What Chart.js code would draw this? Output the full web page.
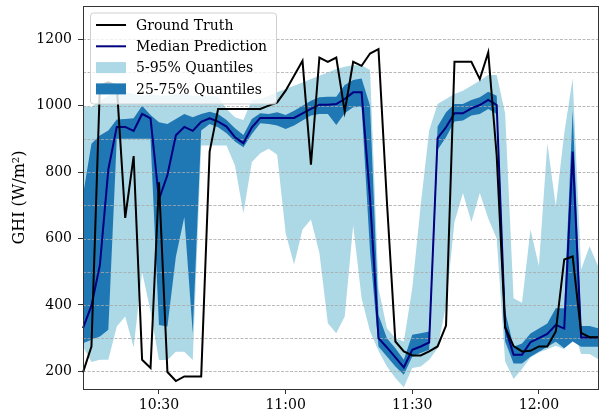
<!DOCTYPE html>
<html>
<head>
<meta charset="utf-8">
<script src="https://cdn.jsdelivr.net/npm/chart.js@4.4.1/dist/chart.umd.min.js"></script>
<style>
  html, body { margin: 0; padding: 0; background: #fff; overflow: hidden; }
  canvas { display: block; }
</style>
</head>
<body>
<canvas id="ghiChart" width="601" height="414"></canvas>
<script>
// 2-minute samples, 10:12 -> 12:14
const timeLabels = [
  "10:12", "10:14", "10:16", "10:18", "10:20", "10:22", "10:24", "10:26", "10:28", "10:30",
  "10:32", "10:34", "10:36", "10:38", "10:40", "10:42", "10:44", "10:46", "10:48", "10:50",
  "10:52", "10:54", "10:56", "10:58", "11:00", "11:02", "11:04", "11:06", "11:08", "11:10",
  "11:12", "11:14", "11:16", "11:18", "11:20", "11:22", "11:24", "11:26", "11:28", "11:30",
  "11:32", "11:34", "11:36", "11:38", "11:40", "11:42", "11:44", "11:46", "11:48", "11:50",
  "11:52", "11:54", "11:56", "11:58", "12:00", "12:02", "12:04", "12:06", "12:08", "12:10",
  "12:12", "12:14"
];
const tickLabels = ["10:30", "11:00", "11:30", "12:00"];

const groundTruth = [
  197, 275, 1060, 1070, 1060, 662, 848, 235, 210, 769,
  198, 171, 185, 185, 185, 862, 990, 990, 990, 990,
  990, 990, 1000, 1010, 1045, 1090, 1135, 822, 1145, 1132,
  1145, 982, 1132, 1120, 1157, 1170, 710, 290, 260, 248,
  248, 260, 275, 338, 1132, 1132, 1132, 1080, 1160, 850,
  333, 276, 260, 262, 275, 275, 320, 537, 546, 316,
  303, 303
];
const medianPrediction = [
  330, 398, 520, 808, 936, 936, 924, 975, 962, 718,
  791, 911, 936, 924, 951, 962, 952, 937, 905, 887,
  935, 963, 963, 963, 963, 963, 977, 990, 1003, 1003,
  1005, 1020, 1040, 1040, 720, 300, 272, 242, 212, 265,
  275, 287, 902, 935, 977, 977, 992, 1002, 1017, 1002,
  333, 250, 250, 288, 300, 313, 340, 329, 862, 302,
  302, 302
];
const q75 = [
  730, 885, 910, 925, 958, 960, 962, 1000, 972, 950,
  945, 960, 975, 965, 975, 982, 975, 957, 932, 912,
  960, 977, 975, 980, 972, 985, 1000, 1015, 1025, 1027,
  1027, 1062, 1077, 1082, 1000, 370, 300, 270, 235, 310,
  315, 320, 937, 980, 1005, 1005, 1017, 1025, 1042, 1030,
  380, 274, 284, 314, 329, 344, 390, 390, 987, 337,
  337, 330
];
const q25 = [
  285, 295, 305, 325, 900, 900, 900, 900, 900, 340,
  335, 545, 665, 315, 925, 945, 935, 917, 892, 875,
  915, 947, 945, 940, 930, 940, 955, 970, 975, 975,
  942, 977, 995, 997, 560, 275, 245, 215, 190, 245,
  255, 265, 867, 905, 952, 955, 970, 975, 990, 975,
  290, 224, 224, 244, 259, 274, 289, 270, 290, 274,
  274, 274
];
const q95 = [
  1000, 995, 1015, 1030, 1040, 1040, 1035, 1030, 1035, 1030,
  1030, 1035, 1035, 1030, 1030, 1030, 1027, 990, 965, 957,
  1017, 1020, 1030, 1040, 1050, 1060, 1070, 1080, 1090, 1100,
  1110, 1117, 1122, 1122, 1107, 450, 330, 300, 290, 450,
  700, 925, 1005, 1020, 1035, 1045, 1060, 1075, 1092, 1092,
  977, 420, 407, 627, 517, 887, 697, 917, 1082, 507,
  577, 517
];
const q05 = [
  275, 228, 235, 235, 335, 365, 272, 500, 380, 234,
  234, 259, 259, 234, 880, 880, 880, 880, 820, 676,
  830, 857, 870, 852, 617, 522, 627, 657, 557, 345,
  315, 365, 640, 420, 320, 262, 215, 180, 152, 210,
  215, 235, 270, 400, 650, 737, 650, 737, 660, 600,
  230, 177, 207, 242, 257, 267, 277, 267, 332, 252,
  252, 237
];

const lightBlue = "#add8e6";
const darkBlue = "#1f77b4";

Chart.defaults.font.family = "'DejaVu Serif', serif";
Chart.defaults.font.size = 14;
Chart.defaults.color = "#000";

// dashed grid drawn over the quantile fills but under the lines
const gridOverFill = {
  id: "gridOverFill",
  afterDatasetDraw(chart, args) {
    if (args.index !== 2) return;
    const { ctx, chartArea, scales } = chart;
    const y = scales.y;
    ctx.save();
    ctx.strokeStyle = "#a8a8a8";
    ctx.lineWidth = 0.8;
    ctx.setLineDash([3, 1.5]);
    for (let v = 200; v < y.max; v += 100) {
      const py = Math.round(y.getPixelForValue(v)) + 0.5;
      ctx.beginPath();
      ctx.moveTo(chartArea.left, py);
      ctx.lineTo(chartArea.right, py);
      ctx.stroke();
    }
    ctx.restore();
  },
};

// matplotlib style legend box in the upper left + frame
const boxLegend = {
  id: "boxLegend",
  afterDraw(chart) {
    const { ctx, chartArea } = chart;
    const ds = chart.data.datasets;
    const items = [0, 1, 4, 2];
    const x0 = chartArea.left + 7;
    const y0 = chartArea.top + 6.5;
    const w = 186;
    const h = 91;
    ctx.save();
    ctx.beginPath();
    ctx.roundRect(x0 + 0.5, y0 + 0.5, w, h, 3);
    ctx.fillStyle = "rgba(255,255,255,0.8)";
    ctx.fill();
    ctx.strokeStyle = "#d0d0d0";
    ctx.lineWidth = 1;
    ctx.stroke();

    ctx.font = "14px 'DejaVu Serif', serif";
    ctx.textBaseline = "middle";
    ctx.textAlign = "left";
    items.forEach((di, k) => {
      const d = ds[di];
      const cy = y0 + 12.5 + k * 21.3;
      if (d.fill) {
        ctx.fillStyle = d.backgroundColor;
        ctx.fillRect(x0 + 6, cy - 5.5, 30, 11);
      } else {
        ctx.strokeStyle = d.borderColor;
        ctx.lineWidth = d.borderWidth;
        ctx.beginPath();
        ctx.moveTo(x0 + 6, cy);
        ctx.lineTo(x0 + 36, cy);
        ctx.stroke();
      }
      ctx.fillStyle = "#000";
      ctx.fillText(d.label, x0 + 46, cy + 1);
    });

    ctx.strokeStyle = "#333";
    ctx.lineWidth = 1;
    ctx.strokeRect(
      Math.round(chartArea.left) + 0.5,
      Math.round(chartArea.top) + 0.5,
      Math.round(chartArea.right - chartArea.left),
      Math.round(chartArea.bottom - chartArea.top)
    );
    ctx.restore();
  },
};

const ctx = document.getElementById("ghiChart").getContext("2d");
new Chart(ctx, {
  type: "line",
  data: {
    labels: timeLabels,
    datasets: [
      {
        label: "Ground Truth",
        data: groundTruth,
        borderColor: "#000",
        borderWidth: 2,
        pointRadius: 0,
        fill: false,
      },
      {
        label: "Median Prediction",
        data: medianPrediction,
        borderColor: "#000080",
        borderWidth: 2,
        pointRadius: 0,
        fill: false,
      },
      {
        label: "25-75% Quantiles",
        data: q75,
        borderWidth: 0,
        borderColor: "rgba(0,0,0,0)",
        backgroundColor: darkBlue,
        pointRadius: 0,
        fill: "+1",
      },
      {
        label: "25% Quantile",
        data: q25,
        borderWidth: 0,
        borderColor: "rgba(0,0,0,0)",
        pointRadius: 0,
        fill: false,
      },
      {
        label: "5-95% Quantiles",
        data: q95,
        borderWidth: 0,
        borderColor: "rgba(0,0,0,0)",
        backgroundColor: lightBlue,
        pointRadius: 0,
        fill: "+1",
      },
      {
        label: "5% Quantile",
        data: q05,
        borderWidth: 0,
        borderColor: "rgba(0,0,0,0)",
        pointRadius: 0,
        fill: false,
      },
    ],
  },
  options: {
    responsive: false,
    animation: false,
    devicePixelRatio: 1,
    layout: { padding: { top: 6, right: 3, left: 0, bottom: 0 } },
    elements: { line: { tension: 0 } },
    plugins: {
      legend: { display: false },
      tooltip: { enabled: false },
    },
    scales: {
      x: {
        type: "category",
        offset: false,
        border: { display: false },
        grid: {
          offset: false,
          drawOnChartArea: false,
          tickLength: 5,
          tickColor: (c) => (c.tick && c.tick.label ? "#333" : "rgba(0,0,0,0)"),
        },
        ticks: {
          autoSkip: false,
          maxRotation: 0,
          padding: 3,
          callback: function (value) {
            const lab = this.getLabelForValue(value);
            return tickLabels.includes(lab) ? lab : "";
          },
        },
        afterFit(scale) {
          scale.height = 25;
          scale.paddingLeft = 0;
          scale.paddingRight = 0;
        },
      },
      y: {
        min: 147,
        max: 1300,
        border: { display: false },
        grid: {
          drawOnChartArea: false,
          tickLength: 5,
          tickColor: "#333",
        },
        ticks: {
          stepSize: 200,
          includeBounds: false,
          padding: 6,
          callback: (value) => String(value),
        },
        title: {
          display: true,
          text: "GHI (W/m²)",
          font: { size: 16 },
          padding: { top: 10, bottom: 0 },
        },
        afterFit(scale) {
          scale.width = 83;
          scale.paddingTop = 0;
          scale.paddingBottom = 0;
        },
      },
    },
  },
  plugins: [gridOverFill, boxLegend],
});
</script>
</body>
</html>
